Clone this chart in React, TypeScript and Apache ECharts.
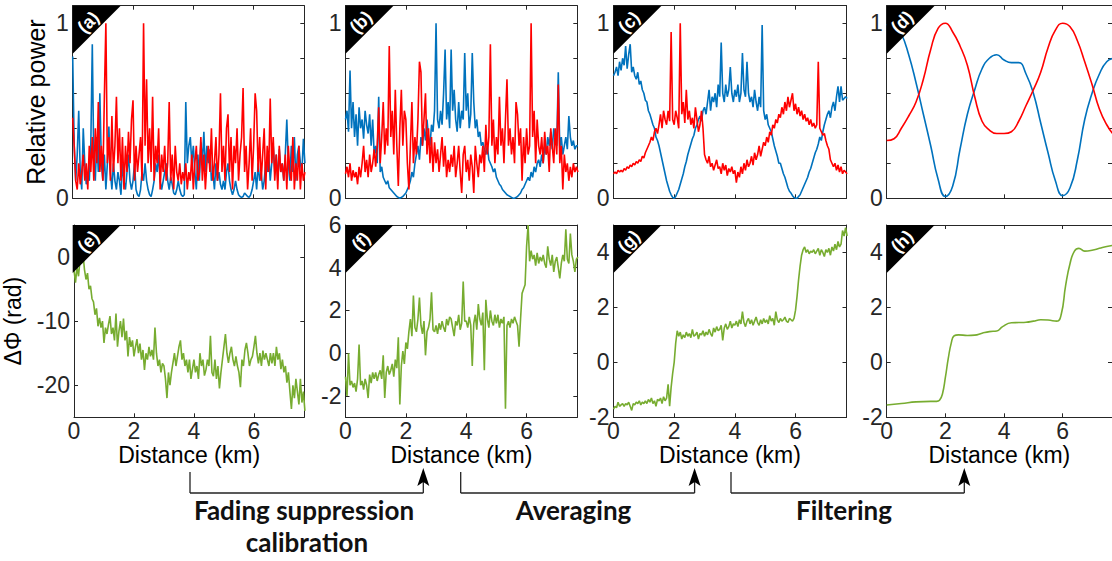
import React, { useEffect, useRef } from "react";
import * as echarts from "echarts";

// ---------- data ----------
const STEP = 0.05; // km between samples of the noisy traces
const X_MAX = 7.68;
const X_TICKS = [0, 2, 4, 6];
const POWER_TICKS = [0, 0.2, 0.4, 0.6, 0.8, 1];
const POWER_LABELS = [0, 1];
const E_TICKS = [-20, -10, 0];
const F_TICKS = [-2, 0, 2, 4, 6];
const GH_TICKS = [-2, 0, 2, 4];

const aBlue = [
  0.81, 0.3, 0.1, 0.25, 0.5, 0.15, 0.05, 0.4, 0.2, 0.08,
  0.15, 0.1, 0.3, 0.88, 0.2, 0.1, 0.35, 0.15, 0.6, 0.2,
  0.1, 0.25, 0.05, 0.2, 0.41, 0.15, 0.05, 0.2, 0.1, 0.05,
  0.15, 0.1, 0.02, 0.2, 0.1, 0.05, 0.15, 0.25, 0.1, 0.05,
  0.1, 0.2, 0.05, 0.02, 0.01, 0.05, 0.15, 0.1, 0.2, 0.1,
  0.05, 0.02, 0.01, 0.05, 0.1, 0.2, 0.15, 0.25, 0.1, 0.05,
  0.1, 0.15, 0.2, 0.1, 0.05, 0.12, 0.08, 0.03, 0.02, 0.05,
  0.1, 0.05, 0.02, 0.01, 0.02, 0.55, 0.2, 0.3, 0.35, 0.2,
  0.3, 0.15, 0.05, 0.25, 0.1, 0.32, 0.2, 0.38, 0.15, 0.3,
  0.2, 0.28, 0.1, 0.15, 0.05, 0.2, 0.1, 0.15, 0.08, 0.05,
  0.1, 0.05, 0.15, 0.2, 0.1, 0.05, 0.02, 0.05, 0.1, 0.05,
  0.02, 0.01, 0.005, 0.01, 0.03, 0.02, 0.01, 0.005, 0.02, 0.05,
  0.1, 0.15, 0.05, 0.2, 0.1, 0.15, 0.05, 0.1, 0.2, 0.15,
  0.25, 0.1, 0.2, 0.3, 0.15, 0.25, 0.1, 0.28, 0.15, 0.2,
  0.1, 0.25, 0.45, 0.2, 0.1, 0.3, 0.15, 0.35, 0.1, 0.25,
  0.3, 0.2, 0.15, 0.34, 0.2,
];
const aRed = [
  0.46, 0.3, 0.1, 0.05, 0.2, 0.08, 0.15, 0.25, 0.1, 0.2,
  0.05, 0.3, 0.15, 0.35, 0.1, 0.4, 0.2, 0.55, 0.15, 0.3,
  0.1, 0.58, 1.0, 0.2, 0.35, 0.1, 0.47, 0.15, 0.3, 0.58,
  0.2, 0.4, 0.1, 0.35, 0.05, 0.3, 0.15, 0.38, 0.2, 0.45,
  0.56, 0.1, 0.3, 0.15, 0.25, 0.35, 0.1, 1.0, 0.3, 0.68,
  0.2, 0.4, 0.15, 0.58, 0.1, 0.3, 0.2, 0.4, 0.05, 0.25,
  0.15, 0.3, 0.1, 0.2, 0.55, 0.1, 0.25, 0.05, 0.3, 0.15,
  0.1, 0.2, 0.08, 0.15, 0.1, 0.2, 0.05, 0.15, 0.1, 0.25,
  0.05, 0.2, 0.3, 0.1, 0.15, 0.35, 0.1, 0.25, 0.05, 0.2,
  0.3, 0.15, 0.4, 0.1, 0.2, 0.35, 0.1, 0.25, 0.6, 0.15,
  0.3, 0.1, 0.4, 0.48, 0.15, 0.35, 0.05, 0.3, 0.2, 0.4,
  0.1, 0.25, 0.35, 0.63, 0.15, 0.3, 0.05, 0.2, 0.4, 0.1,
  0.3, 0.6, 0.5, 0.15, 0.35, 0.1, 0.25, 0.4, 0.05, 0.3,
  0.15, 0.57, 0.2, 0.35, 0.1, 0.25, 0.05, 0.3, 0.15, 0.2,
  0.1, 0.25, 0.05, 0.3, 0.15, 0.1, 0.35, 0.05, 0.2, 0.1,
  0.3, 0.05, 0.2, 0.1, 0.15,
];
const bBlue = [
  0.45, 0.5, 0.38, 0.73, 0.4, 0.55, 0.35, 0.48, 0.3, 0.52,
  0.4, 0.45, 0.34, 0.5, 0.42, 0.37, 0.48, 0.3, 0.45, 0.25,
  0.3, 0.2, 0.58, 0.15, 0.18, 0.12, 0.1, 0.08, 0.1, 0.06,
  0.05, 0.04, 0.03, 0.02, 0.01, 0.005, 0.0, 0.005, 0.01, 0.02,
  0.03, 0.05, 0.07, 0.1, 0.15, 0.12, 0.2, 0.25, 0.3, 0.22,
  0.35, 0.3, 0.4, 0.33, 0.45, 0.35, 0.3, 0.42, 0.38, 0.5,
  1.0, 0.45, 0.4, 0.5, 0.42, 0.6, 0.85, 0.45, 0.55, 0.4,
  0.85, 0.5, 0.62, 0.45, 0.38, 0.55, 0.4, 0.5, 0.45, 0.83,
  0.5, 0.6, 0.4, 0.48, 0.83, 0.55, 0.4, 0.45, 0.35, 0.38,
  0.3, 0.32, 0.28, 0.25, 0.3, 0.22, 0.2, 0.18, 0.15, 0.17,
  0.12, 0.1, 0.08, 0.07, 0.05, 0.04, 0.03, 0.02, 0.015, 0.01,
  0.005, 0.0, 0.0, 0.005, 0.01, 0.02, 0.03, 0.05, 0.06, 0.08,
  0.1, 0.12, 0.1, 0.15, 0.12, 0.18, 0.15, 0.2, 0.22, 0.18,
  0.25, 0.2, 0.3, 0.25, 0.35, 0.3, 0.38, 0.28, 0.4, 0.35,
  0.3, 0.72, 0.28, 0.35, 0.25, 0.3, 0.35, 0.28, 0.47, 0.35,
  0.3, 0.33, 0.28, 0.3, 0.3,
];
const bRed = [
  0.14, 0.18, 0.12, 0.2, 0.1, 0.16, 0.12, 0.15, 0.08, 0.18,
  0.12, 0.2, 0.3, 0.15, 0.22, 0.12, 0.25, 0.15, 0.2, 0.28,
  0.18, 0.3, 0.52, 0.2, 0.35, 0.55, 0.25, 0.4, 0.3, 0.87,
  0.35, 0.5, 0.25, 0.62, 0.3, 0.07, 0.4, 0.62, 0.3, 0.5,
  0.45, 0.2, 0.05, 0.3, 0.55, 0.2, 0.35, 0.25, 0.45, 0.78,
  0.72, 0.3, 0.45, 0.6, 0.25, 0.4, 0.2, 0.35, 0.15, 0.32,
  0.2, 0.28, 0.15, 0.25, 0.35, 0.18, 0.3, 0.12, 0.22, 0.15,
  0.25, 0.18, 0.3, 0.12, 0.2, 0.3, 0.15, 0.03, 0.25, 0.3,
  0.15, 0.22, 0.1, 0.25, 0.18, 0.03, 0.3, 0.2, 0.12, 0.25,
  0.2, 0.3, 0.15, 0.42, 0.25, 0.35, 0.88, 0.3, 0.45, 0.2,
  0.35, 0.25, 0.58, 0.3, 0.4, 0.2, 0.45, 0.68, 0.3, 0.4,
  0.25, 0.35, 0.2, 0.55, 0.48, 0.3, 0.4, 0.1, 0.35, 0.2,
  0.4, 0.25, 0.3, 1.0, 0.35, 0.5, 0.2, 0.45, 0.3, 0.25,
  0.35, 0.2, 0.38, 0.25, 0.3, 0.15, 0.4, 0.3, 0.2, 0.4,
  0.25, 0.65, 0.2, 0.3, 0.05, 0.25, 0.15, 0.2, 0.1, 0.18,
  0.12, 0.2, 0.15, 0.18, 0.15,
];
const cBlue = [
  0.7, 0.72, 0.75, 0.7, 0.78, 0.73, 0.8, 0.76, 0.87, 0.74,
  0.82, 0.88, 0.72, 0.75, 0.7, 0.68, 0.72, 0.65, 0.67, 0.62,
  0.6, 0.56, 0.55, 0.5, 0.48, 0.45, 0.42, 0.4, 0.35, 0.33,
  0.3, 0.26, 0.22, 0.18, 0.14, 0.1, 0.07, 0.04, 0.02, 0.005,
  0.0, 0.01, 0.03, 0.05, 0.08, 0.11, 0.14, 0.18, 0.21, 0.25,
  0.28, 0.31, 0.34, 0.36, 0.4, 0.42, 0.45, 0.47, 0.44, 0.5,
  0.52, 0.48, 0.55, 0.62, 0.5, 0.58, 0.55, 0.6, 0.52, 0.65,
  0.58, 0.89, 0.6, 0.55, 0.65, 0.58, 0.62, 0.75, 0.6, 0.55,
  0.62, 0.58, 0.65, 0.55, 0.6, 0.83, 0.62, 0.58, 0.78, 0.6,
  0.55, 0.58, 0.52, 0.62, 0.55, 0.5, 0.58, 0.52, 0.99, 0.5,
  0.45, 0.48, 0.42, 0.4, 0.38, 0.34, 0.3, 0.27, 0.24, 0.2,
  0.2, 0.17, 0.14, 0.12, 0.09, 0.06, 0.04, 0.03, 0.015, 0.005,
  0.0, 0.0, 0.01, 0.02, 0.04, 0.06, 0.08, 0.1, 0.12, 0.15,
  0.17, 0.2, 0.23, 0.26, 0.28, 0.31, 0.35, 0.33, 0.38, 0.42,
  0.45, 0.48, 0.5, 0.46, 0.52, 0.55, 0.5, 0.58, 0.64, 0.55,
  0.64, 0.56, 0.57, 0.58, 0.57,
];
const cRed = [
  0.14, 0.15, 0.14, 0.16, 0.15, 0.16, 0.15, 0.17, 0.16, 0.18,
  0.17, 0.19, 0.18, 0.2, 0.19, 0.21, 0.2, 0.22, 0.21, 0.24,
  0.23, 0.26, 0.28, 0.3, 0.32, 0.35, 0.33, 0.38, 0.4, 0.37,
  0.42, 0.48, 0.4, 0.5, 0.45, 0.42, 0.5, 0.44, 0.95, 0.45,
  0.42, 0.5, 0.46, 0.4, 1.0, 0.48, 0.55, 0.43, 0.62, 0.45,
  0.5, 0.42, 0.46, 0.4, 0.52, 0.45, 0.38, 0.42, 0.5, 0.4,
  0.25, 0.22, 0.2, 0.24, 0.18, 0.2, 0.16, 0.19, 0.22, 0.17,
  0.18, 0.14, 0.2, 0.16, 0.19, 0.13, 0.17, 0.15, 0.18, 0.14,
  0.16, 0.09, 0.15, 0.12, 0.18, 0.14, 0.2, 0.16, 0.22, 0.18,
  0.2, 0.24, 0.19, 0.26, 0.22, 0.25, 0.3, 0.24, 0.28, 0.32,
  0.3, 0.35, 0.32, 0.38, 0.36, 0.42, 0.4, 0.45, 0.43, 0.48,
  0.46, 0.52, 0.48, 0.55, 0.5, 0.58, 0.52, 0.56, 0.6, 0.5,
  0.54, 0.48, 0.52, 0.47, 0.5, 0.45, 0.48, 0.44, 0.46, 0.42,
  0.45, 0.41, 0.43, 0.4, 0.42, 0.78, 0.4, 0.38, 0.36, 0.37,
  0.33, 0.3, 0.28, 0.22, 0.2, 0.18, 0.2, 0.16, 0.19, 0.15,
  0.18, 0.14, 0.16, 0.15, 0.14,
];
// smooth (filtered) traces of panel (d) and (h): distance / value pairs
const dX = [0, 0.25, 0.5, 0.75, 1, 1.25, 1.5, 1.75, 2, 2.25, 2.5, 2.75, 3, 3.25, 3.5, 3.75, 4, 4.25, 4.5, 4.75, 5, 5.25, 5.5, 5.75, 6, 6.25, 6.5, 6.75, 7, 7.25, 7.5, 7.75];
const dBlue = [0.99, 1.0, 0.94, 0.82, 0.66, 0.48, 0.3, 0.11, 0.01, 0.07, 0.28, 0.48, 0.62, 0.74, 0.8, 0.82, 0.79, 0.775, 0.775, 0.71, 0.6, 0.43, 0.26, 0.1, 0.015, 0.06, 0.22, 0.45, 0.6, 0.71, 0.78, 0.8];
const dRed = [0.33, 0.34, 0.4, 0.47, 0.55, 0.68, 0.85, 0.97, 1.0, 0.95, 0.87, 0.76, 0.58, 0.44, 0.39, 0.37, 0.37, 0.38, 0.44, 0.53, 0.62, 0.72, 0.86, 0.96, 1.0, 0.98, 0.9, 0.78, 0.65, 0.51, 0.42, 0.36];
const eGreen = [
  -2, -4, -1.5, -3, -0.5, -1, 0.5, -2, -3.5, -2.5,
  -5, -4.5, -6.5, -7, -9, -8, -10.8, -9.5, -11, -10,
  -13.4, -11, -12, -10.5, -9.2, -12, -11, -13, -8.8, -14,
  -11.5, -10, -12.5, -9.6, -13, -11.5, -15.5, -12.5, -14, -13,
  -15.5, -14, -12.8, -15, -13.5, -16, -14.5, -17.6, -15, -16,
  -14, -15.5, -14.5, -16, -11, -15, -17, -16, -18, -16.6,
  -17, -19, -22, -18, -20, -18, -16.5, -15, -17, -15.5,
  -14, -13, -16, -15, -17, -16, -18, -16, -19, -17.5,
  -16, -18, -17, -19, -15, -17, -16, -18.5, -17.6, -16,
  -17, -12.3, -18, -18.6, -16, -19, -17, -20.5, -18, -16,
  -14, -12, -15, -16.5, -15, -14, -16, -17, -15.5, -17,
  -18, -20.3, -16, -17, -14.5, -13.4, -15, -17, -16, -15.5,
  -14, -12.3, -15, -16.6, -15, -17, -14.6, -16, -15, -16,
  -17, -15, -16.6, -15, -17, -14, -16, -15, -17.5, -16,
  -18, -17, -19.6, -18, -21, -23.7, -20, -22, -19, -21,
  -23, -19, -22.7, -21, -24,
];
const fGreen = [
  -1.1, -2.0, 0.0, -1.5, -1.3, -1.6, -1.4, -1.8, -1.2, 0.4,
  -1.5, -1.3, -1.7, -1.2, -1.5, -2.1, -1.0, -1.4, -0.9, -1.2,
  -0.9, -1.3, -1.0, -0.8, -1.2, -0.1, -2.1, -0.9, -0.6, -1.0,
  -0.8, -0.5, -1.1, -0.3, -0.7, 0.75, -2.4, -0.6, 0.1, -0.5,
  0.5, 0.2, 1.0, 1.6, 0.8, 2.7, 1.2, 1.0, 1.6, 2.6,
  1.3, 0.9, 1.5, -0.1, 1.0, 1.2, 1.6, 2.85, 1.1, 1.0,
  1.3, 0.9, 1.4, 1.1, 1.5, 1.2, 1.0, 1.6, 1.3, 1.7,
  1.6, 1.2, 0.8, 1.5, 1.3, 1.8, 1.1, 1.4, 3.36, 1.5,
  1.5, 1.2, 1.7, 1.3, -0.6, 1.4, 1.8, 1.1, 2.3, 1.6,
  1.3, 1.9, -0.8, 2.5, 1.6, 1.2, 2.0, 1.5, 1.3, 1.8,
  1.4, 1.8, 1.2, 1.6, 1.4, 1.7, -2.6, 1.3, 1.5, 1.2,
  1.6, 1.4, 1.7, 1.5, 1.3, 0.3, 1.6, 2.8, 3.0, 3.2,
  5.0, 6.0, 4.3, 4.8, 4.4, 4.6, 4.1, 4.7, 4.2, 4.5,
  4.3, 4.6, 4.2, 4.0, 5.0, 4.4, 4.1, 4.6, 3.8, 4.3,
  4.5, 4.0, 3.5, 4.2, 4.6, 4.3, 5.8, 4.4, 4.2, 5.6,
  4.6, 4.3, 3.8, 4.4, 4.5,
];
const gGreen = [
  -1.7, -1.6, -1.65, -1.45, -1.6, -1.55, -1.5, -1.6, -1.5, -1.55,
  -1.45, -1.6, -1.75, -1.5, -1.55, -1.45, -1.5, -1.4, -1.55, -1.45,
  -1.5, -1.4, -1.5, -1.35, -1.45, -1.3, -1.5, -1.4, -1.6, -1.35,
  -1.4, -1.3, -1.5, -1.25, -1.4, -1.3, -0.8, -1.6, -0.9, -0.4,
  0.0, 0.7, 1.15, 0.95, 1.1, 0.85, 1.0, 0.9, 1.1, 0.95,
  1.05, 0.9, 1.2, 0.95, 1.0, 1.1, 0.85, 1.05, 1.0, 1.15,
  0.95, 1.1, 1.0, 1.2, 1.05, 0.95, 1.25, 1.1, 1.3, 1.15,
  1.2, 1.35, 0.8, 1.25, 1.4, 1.2, 1.3, 1.5, 1.25, 1.4,
  1.35, 1.5, 1.3, 1.55, 1.4, 1.85, 1.45, 1.3, 1.5, 1.6,
  1.4, 1.55, 1.35, 1.5, 1.65, 1.45, 1.35, 1.55, 1.4, 1.6,
  1.45, 1.55, 1.4, 1.7, 1.5, 1.6, 1.35, 1.85, 1.55, 1.45,
  1.6, 1.5, 1.55, 1.65, 1.5, 1.45, 1.6, 1.55, 1.5, 1.6,
  1.9, 2.4, 3.0, 3.5, 3.9, 4.1, 4.2, 4.0, 4.1, 3.95,
  4.05, 4.0, 4.1, 3.95, 4.05, 4.15, 3.9, 4.1, 4.0, 3.85,
  4.1, 4.0, 4.15, 3.9, 4.2, 4.05, 4.3, 4.1, 4.4, 4.2,
  4.3, 4.8, 4.6, 4.9, 4.6,
];
const hX = [0, 0.5, 1, 1.5, 1.7, 1.8, 1.9, 2, 2.1, 2.2, 2.3, 2.45, 2.75, 3, 3.25, 3.5, 3.75, 3.95, 4.25, 4.5, 4.75, 5, 5.25, 5.5, 5.8, 5.95, 6.1, 6.25, 6.4, 6.55, 6.75, 7, 7.25, 7.5, 7.75];
const hGreen = [-1.55, -1.5, -1.44, -1.42, -1.42, -1.38, -1.15, -0.55, 0.15, 0.7, 0.97, 1.0, 0.98, 0.99, 1.06, 1.12, 1.14, 1.3, 1.44, 1.45, 1.46, 1.5, 1.55, 1.54, 1.5, 1.75, 2.8, 3.6, 4.05, 4.15, 4.05, 4.08, 4.15, 4.22, 4.26];

const PANEL_LETTERS = ["(a)", "(b)", "(c)", "(d)", "(e)", "(f)", "(g)", "(h)"];
const STEP_NAMES = ["Fading suppression", "Averaging", "Filtering"];

// ---------- layout ----------
const COL_LEFT = [72.7, 345.5, 613.5, 886.7];
const COL_WIDTH = [231.6, 231.8, 233, 233];
const ROW_TOP = [5.7, 225];
const ROW_HEIGHT = [192.6, 192.3];
const BRACKET_LEFT = [190, 460.7, 731];
const BRACKET_RIGHT = [423.3, 694.6, 964.3];
const STEP_TEXT_X = [304, 573.5, 844];

const BLUE = "#0072BD";
const RED = "#FF0000";
const GREEN = "#77AC30";
const AXIS = "#262626";
const FONT = "Liberation Sans";

const toXY = (arr: number[]) => arr.map((v, i) => [+(i * STEP).toFixed(2), v]);
const zipXY = (xs: number[], ys: number[]) => xs.map((x, i) => [x, ys[i]]);

export default function App() {
  const ref = useRef<HTMLDivElement>(null);

  useEffect(() => {
    if (!ref.current) return;
    const chart = echarts.init(ref.current, null, { renderer: "svg" });

    const grids: any[] = [];
    const xAxes: any[] = [];
    const yAxes: any[] = [];
    const yCfg = [
      { min: 0, max: 1.1, ticks: POWER_TICKS, labels: POWER_LABELS },
      { min: 0, max: 1.1, ticks: POWER_TICKS, labels: POWER_LABELS },
      { min: 0, max: 1.1, ticks: POWER_TICKS, labels: POWER_LABELS },
      { min: 0, max: 1.1, ticks: POWER_TICKS, labels: POWER_LABELS },
      { min: -25, max: 5, ticks: E_TICKS, labels: E_TICKS },
      { min: -3, max: 6, ticks: F_TICKS, labels: F_TICKS },
      { min: -2, max: 5, ticks: GH_TICKS, labels: GH_TICKS },
      { min: -2, max: 5, ticks: GH_TICKS, labels: GH_TICKS },
    ];
    const lineStyle = { color: AXIS, width: 1 };
    const labelStyle = { fontSize: 23, color: AXIS, fontFamily: FONT };

    for (let r = 0; r < 2; r++) {
      for (let c = 0; c < 4; c++) {
        const gi = r * 4 + c;
        grids.push({
          left: COL_LEFT[c],
          top: ROW_TOP[r],
          width: COL_WIDTH[c],
          height: ROW_HEIGHT[r],
          containLabel: false,
        });
        const xBase = {
          type: "value",
          gridIndex: gi,
          min: 0,
          max: X_MAX,
          splitLine: { show: false },
          axisLine: { show: true, onZero: false, lineStyle },
          axisTick: { show: true, inside: true, length: 4, customValues: X_TICKS, lineStyle },
        };
        xAxes.push({
          ...xBase,
          position: "bottom",
          axisLabel: { show: r === 1, customValues: X_TICKS, margin: 2, ...labelStyle },
          name: r === 1 ? "Distance (km)" : "",
          nameLocation: "middle",
          nameGap: 23,
          nameTextStyle: { fontSize: 23, color: "#000", fontFamily: FONT },
        });
        xAxes.push({ ...xBase, position: "top", axisLabel: { show: false } });
        const yc = yCfg[gi];
        const yBase = {
          type: "value",
          gridIndex: gi,
          min: yc.min,
          max: yc.max,
          splitLine: { show: false },
          axisLine: { show: true, onZero: false, lineStyle },
          axisTick: { show: true, inside: true, length: 4, customValues: yc.ticks, lineStyle },
        };
        let yName = "";
        let yGap = 25;
        let yFont = 23;
        if (gi === 0) { yName = "Relative power"; yGap = 24; yFont = 25; }
        if (gi === 4) { yName = "ΔΦ (rad)"; yGap = 50; }
        yAxes.push({
          ...yBase,
          position: "left",
          axisLabel: { show: true, customValues: yc.labels, margin: 4, ...labelStyle },
          name: yName,
          nameLocation: "middle",
          nameRotate: 90,
          nameGap: yGap,
          nameTextStyle: { fontSize: yFont, color: "#000", fontFamily: FONT },
        });
        yAxes.push({ ...yBase, position: "right", axisLabel: { show: false } });
      }
    }

    const line = (gi: number, data: number[][], color: string, smooth = false) => ({
      type: "line",
      xAxisIndex: gi * 2,
      yAxisIndex: gi * 2,
      data,
      showSymbol: false,
      symbol: "none",
      smooth,
      clip: true,
      lineStyle: { color, width: 1.6 },
      itemStyle: { color },
      silent: true,
    });

    const series = [
      line(0, toXY(aBlue), BLUE),
      line(0, toXY(aRed), RED),
      line(1, toXY(bBlue), BLUE),
      line(1, toXY(bRed), RED),
      line(2, toXY(cBlue), BLUE),
      line(2, toXY(cRed), RED),
      line(3, zipXY(dX, dBlue), BLUE, true),
      line(3, zipXY(dX, dRed), RED, true),
      line(4, toXY(eGreen), GREEN),
      line(5, toXY(fGreen), GREEN),
      line(6, toXY(gGreen), GREEN),
      line(7, zipXY(hX, hGreen), GREEN, true),
    ];

    const graphic: any[] = [];
    const TRI = 48;
    for (let r = 0; r < 2; r++) {
      for (let c = 0; c < 4; c++) {
        const L = COL_LEFT[c];
        const T = ROW_TOP[r];
        graphic.push({
          type: "polygon",
          z: 100,
          shape: { points: [[L, T], [L + TRI, T], [L, T + TRI]] },
          style: { fill: "#000" },
        });
        graphic.push({
          type: "text",
          z: 101,
          x: L + 15.5,
          y: T + 16.5,
          rotation: Math.PI / 4,
          style: {
            text: PANEL_LETTERS[r * 4 + c],
            fill: "#fff",
            font: `bold 18px "${FONT}"`,
            align: "center",
            verticalAlign: "middle",
          },
        });
      }
    }
    const bs = { stroke: "#222", lineWidth: 1.3 };
    for (let k = 0; k < 3; k++) {
      const L = BRACKET_LEFT[k];
      const R = BRACKET_RIGHT[k];
      graphic.push({ type: "line", shape: { x1: L, y1: 472, x2: L, y2: 493 }, style: bs });
      graphic.push({ type: "line", shape: { x1: L, y1: 493, x2: R, y2: 493 }, style: bs });
      graphic.push({ type: "line", shape: { x1: R, y1: 493, x2: R, y2: 482 }, style: bs });
      graphic.push({
        type: "polygon",
        shape: { points: [[R, 468], [R - 6, 486], [R, 482], [R + 6, 486]] },
        style: { fill: "#000" },
      });
      graphic.push({
        type: "text",
        x: STEP_TEXT_X[k],
        y: 510,
        style: {
          text: STEP_NAMES[k],
          fill: "#111",
          font: 'bold 26px "Lato"',
          align: "center",
          verticalAlign: "middle",
        },
      });
    }
    graphic.push({
      type: "text",
      x: 307,
      y: 542,
      style: {
        text: "calibration",
        fill: "#111",
        font: 'bold 26px "Lato"',
        align: "center",
        verticalAlign: "middle",
      },
    });

    chart.setOption({
      animation: false,
      backgroundColor: "#fff",
      grid: grids,
      xAxis: xAxes,
      yAxis: yAxes,
      series,
      graphic,
    });
    return () => chart.dispose();
  }, []);

  return (
    <div
      ref={ref}
      style={{ position: "fixed", left: 0, top: 0, width: 1112, height: 561 }}
    />
  );
}
